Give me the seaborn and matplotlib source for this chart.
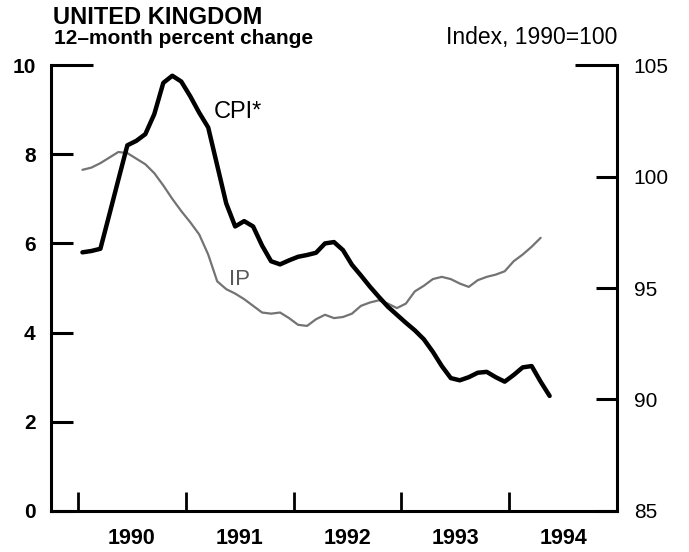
import numpy as np
import pandas as pd
import matplotlib
matplotlib.use("Agg")
import matplotlib.pyplot as plt
import seaborn as sns

# monthly values, Jan 1990 onward
cpi = [5.80, 5.83, 5.88, 6.65, 7.43, 8.20, 8.30, 8.45, 8.90, 9.60,
       9.76, 9.63, 9.30, 8.93, 8.60, 7.75, 6.90, 6.38, 6.50, 6.38,
       5.95, 5.60, 5.53, 5.62, 5.70, 5.74, 5.79, 6.00, 6.03, 5.85,
       5.52, 5.28, 5.03, 4.80, 4.58, 4.40, 4.22, 4.05, 3.85, 3.57,
       3.25, 2.98, 2.93, 3.00, 3.10, 3.12, 3.00, 2.90, 3.05, 3.22,
       3.25, 2.90, 2.58]
ip = [100.3, 100.4, 100.6, 100.85, 101.1, 101.05, 100.8, 100.55, 100.15, 99.6,
      99.0, 98.45, 97.95, 97.4, 96.5, 95.3, 94.95, 94.75, 94.5, 94.2,
      93.9, 93.85, 93.9, 93.65, 93.35, 93.3, 93.6, 93.8, 93.65, 93.7,
      93.85, 94.2, 94.35, 94.45, 94.3, 94.1, 94.3, 94.85, 95.1, 95.4,
      95.5, 95.4, 95.2, 95.05, 95.35, 95.5, 95.6, 95.75, 96.2, 96.5,
      96.85, 97.25]
years = [1990, 1991, 1992, 1993, 1994]
left_ticks = [0, 2, 4, 6, 8, 10]
right_ticks = [85, 90, 95, 100, 105]

cpi_df = pd.DataFrame({"date": 1990 + (np.arange(len(cpi)) + 0.5) / 12, "value": cpi})
ip_df = pd.DataFrame({"date": 1990 + (np.arange(len(ip)) + 0.5) / 12, "value": ip})

sns.set_style("ticks")
plt.rcParams["font.family"] = ["Liberation Sans", "DejaVu Sans"]
for key in ["text.color", "axes.edgecolor", "xtick.color", "ytick.color", "axes.labelcolor"]:
    plt.rcParams[key] = "black"

fig = plt.figure(figsize=(6.89, 5.52), dpi=100)
ax = fig.add_axes([0.074, 0.0743, 0.8215, 0.8079])
ax2 = ax.twinx()
ax.set_zorder(ax2.get_zorder() + 1)
ax.patch.set_visible(False)

sns.lineplot(data=ip_df, x="date", y="value", ax=ax2, color="0.45", lw=1.6)
sns.lineplot(data=cpi_df, x="date", y="value", ax=ax, color="black", lw=3.2)

ax.set_xlim(1989.75, 1995.0)
ax.set_ylim(0, 10)
ax2.set_ylim(85, 105)
for a in (ax, ax2):
    a.set_xlabel("")
    a.set_ylabel("")

# spines
for s in ["top", "right"]:
    ax.spines[s].set_visible(False)
for s in ["top", "left", "bottom"]:
    ax2.spines[s].set_visible(False)
ax.spines["left"].set_linewidth(2.2)
ax.spines["bottom"].set_linewidth(2.2)
ax2.spines["right"].set_linewidth(2.2)

# x axis: ticks at year boundaries, labels centred on years
ax.set_xticks(years)
ax.set_xticklabels([])
ax.set_xticks([y + 0.5 for y in years], minor=True)
ax.set_xticklabels([str(y) for y in years], minor=True, fontsize=15.5, fontweight="bold")
ax.tick_params(axis="x", which="major", direction="in", length=14, width=2)
ax.tick_params(axis="x", which="minor", length=0, pad=12)

ax.set_yticks(left_ticks)
ax.set_yticklabels([str(v) for v in left_ticks], fontsize=15, fontweight="bold")
ax.tick_params(axis="y", direction="in", length=16, width=2.2, pad=11)

ax2.set_yticks(right_ticks)
ax2.set_yticklabels([str(v) for v in right_ticks], fontsize=15)
ax2.tick_params(axis="y", direction="in", length=15, width=2.2, pad=12)

# long top ticks
ax.yaxis.get_major_ticks()[-1].tick1line.set_markersize(30)
ax2.yaxis.get_major_ticks()[-1].tick2line.set_markersize(30)

# series labels
ax.text(1991.26, 8.95, "CPI*", fontsize=17, va="center", ha="left")
ax.text(1991.40, 5.2, "IP", fontsize=16, va="center", ha="left", color="0.35")

# headings
fig.text(0.077, 0.956, "UNITED KINGDOM", fontsize=17, fontweight="bold", va="baseline")
fig.text(0.079, 0.921, "12\u2013month percent change", fontsize=15, fontweight="bold", va="baseline")
fig.text(0.8955, 0.920, "Index, 1990=100", fontsize=16.5, va="baseline", ha="right")

fig.savefig("out.png", dpi=100)
